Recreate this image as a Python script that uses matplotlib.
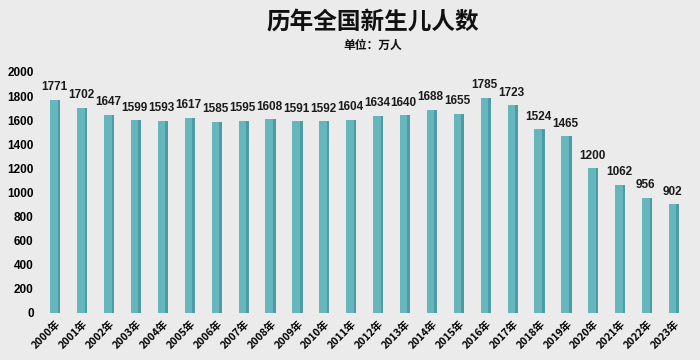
import matplotlib.pyplot as plt
import numpy as np

plt.rcParams['font.family'] = ['Noto Sans CJK SC', 'DejaVu Sans']

# 数据
years = [f"{y}年" for y in range(2000, 2024)]
births = [1771, 1702, 1647, 1599, 1593, 1617, 1585, 1595, 1608, 1591, 1592, 1604,
          1634, 1640, 1688, 1655, 1785, 1723, 1524, 1465, 1200, 1062, 956, 902]
yticks = [0, 200, 400, 600, 800, 1000, 1200, 1400, 1600, 1800, 2000]

bg = '#ebebeb'
fig = plt.figure(figsize=(7, 3.6), dpi=100, facecolor=bg)
ax = fig.add_axes([0.056, 0.131, 0.930, 0.669], facecolor=bg)

x = np.arange(len(years))
w = 0.38
ax.bar(x, births, width=w, color='#66b6bd', zorder=2)
# 右侧暗面，模拟立体效果
ax.bar(x + w / 2 - 0.05, births, width=0.1, color='#4d9ca5', zorder=3)

for xi, v in zip(x, births):
    ax.text(xi - 0.05, v + 55, str(v), ha='center', va='bottom', fontsize=8.5,
            fontweight='bold', color='#1a1a1a', family=['Liberation Sans'])

ax.set_xlim(-0.6, len(years) - 0.4)
ax.set_ylim(0, 2000)
ax.set_yticks(yticks)
ax.set_yticklabels([str(t) for t in yticks], fontsize=8.5, fontweight='bold',
                   family=['Liberation Sans'])
ax.set_xticks(x)
ax.set_xticklabels(years, rotation=45, ha='right', rotation_mode='anchor',
                   fontsize=7.5, fontweight='bold')
ax.tick_params(length=0, pad=4)
for s in ax.spines.values():
    s.set_visible(False)

fig.text(0.533, 0.938, '历年全国新生儿人数', ha='center', va='center',
         fontsize=17, fontweight='bold', color='#111111')
fig.text(0.532, 0.875, '单位：万人', ha='center', va='center',
         fontsize=8.5, fontweight='bold', color='#111111')

fig.savefig('out.png', dpi=100, facecolor=bg)
